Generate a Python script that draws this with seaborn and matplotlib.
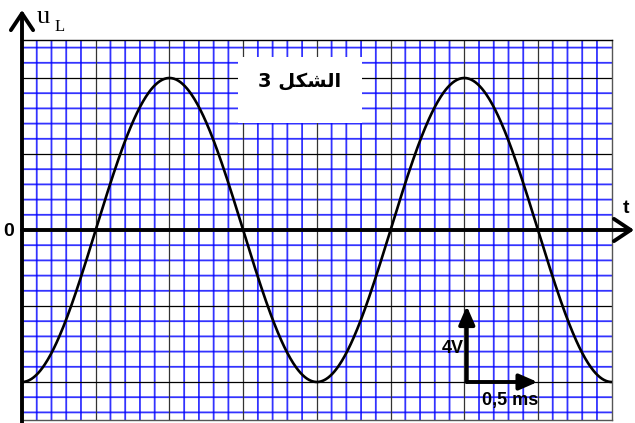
import numpy as np
import matplotlib.pyplot as plt
import seaborn as sns
from matplotlib.patches import Rectangle

# values (grid: 0.5 ms and 4 V per big square)
u_max_v = 8.0        # peak of u_L
period_ms = 2.0      # one full oscillation
t_end_ms = 4.0
u_lim_v = 10.0
t_major_ms = 0.5
t_minor_ms = 0.1
u_major_v = 4.0
u_minor_v = 0.8

t = np.linspace(0, t_end_ms, 801)
u = -u_max_v * np.cos(2 * np.pi * t / period_ms)   # starts at the minimum

W, H = 635, 423
sns.set_style('white')

fig = plt.figure(figsize=(W / 100, H / 100), dpi=100)
ax = fig.add_axes([22 / W, 3 / H, (611.7 - 22) / W, 380 / H])

sns.lineplot(x=t, y=u, color='black', lw=1.9, ax=ax, zorder=4)

ax.set_xlim(0, t_end_ms)
ax.set_ylim(-u_lim_v, u_lim_v)

# graph paper
blue = '#0000ff'
n_t = int(round(t_end_ms / t_minor_ms))
per_major_t = int(round(t_major_ms / t_minor_ms))
for i in range(1, n_t):
    if i % per_major_t == 0:
        ax.axvline(i * t_minor_ms, color='#333333', lw=0.9, zorder=1)
    else:
        ax.axvline(i * t_minor_ms, color=blue, lw=1.3, alpha=0.8, snap=False, zorder=0.5)
n_u = int(u_lim_v // u_minor_v)
per_major_u = int(round(u_major_v / u_minor_v))
for j in range(-n_u, n_u + 1):
    if j == 0:
        continue
    if j % per_major_u == 0:
        ax.axhline(j * u_minor_v, color='black', lw=0.9, zorder=1)
    else:
        ax.axhline(j * u_minor_v, color=blue, lw=1.3, alpha=0.8, snap=False, zorder=0.5)
ax.set_xticks([])
ax.set_yticks([])

ax.spines['left'].set_visible(False)
ax.spines['top'].set_color('black')
ax.spines['right'].set_color('#555555')
ax.spines['bottom'].set_color('#555555')
for s in ['top', 'right', 'bottom']:
    ax.spines[s].set_linewidth(1.0)

# axes with open arrow heads
axis_arrow = dict(arrowstyle='->, head_length=0.6, head_width=0.4', lw=2.8,
                  color='black', shrinkA=0, shrinkB=0, mutation_scale=20)
ax.annotate('', xy=(1.038, 0), xytext=(0, 0),
            xycoords=('axes fraction', 'data'), textcoords=('axes fraction', 'data'),
            arrowprops=axis_arrow, annotation_clip=False, zorder=6)
ax.annotate('', xy=(0, 1.079), xytext=(0, -0.01),
            xycoords=('data', 'axes fraction'), textcoords=('data', 'axes fraction'),
            arrowprops=axis_arrow, annotation_clip=False, zorder=6)

# scale arrows
scale_arrow = dict(arrowstyle='-|>, head_length=0.55, head_width=0.24', lw=2.8,
                   color='black', shrinkA=0, shrinkB=0, mutation_scale=20)
t0 = 3.017
ax.annotate('', xy=(t0, -u_max_v + u_major_v), xytext=(t0, -u_max_v),
            arrowprops=scale_arrow, zorder=6)
ax.annotate('', xy=(t0 + t_major_ms - 0.02, -u_max_v), xytext=(t0, -u_max_v),
            arrowprops=scale_arrow, zorder=6)
lab = dict(family='Liberation Sans', weight='bold', fontsize=13, color='black')
ax.text(2.995, -6.25, '4V', ha='right', va='center', zorder=7, **lab)
ax.text(3.31, -8.95, '0,5 ms', ha='center', va='center', zorder=7, **lab)

# figure label box
ax.add_patch(Rectangle((1.465, 5.63), 0.842, 3.47, facecolor='white',
                       edgecolor='none', zorder=3))
# Arabic "الشكل 3" in shaped presentation forms, visual order
ax.text(1.886, 7.85, '3 \ufede\ufedc\ufeb8\ufedf\ufe8d', ha='center', va='center',
        family=['DejaVu Sans'], weight='bold', fontsize=14, color='black', zorder=5)

# axis labels
fig.text(9 / W, 1 - 231 / H, '0', ha='center', va='center',
         family='Liberation Sans', weight='bold', fontsize=14, color='black')
fig.text(626 / W, 1 - 208 / H, 't', ha='center', va='center',
         family='Liberation Sans', weight='bold', fontsize=14, color='black')
fig.text(37 / W, 1 - 23 / H, 'u', ha='left', va='baseline',
         family='Liberation Serif', fontsize=19, color='black')
fig.text(55 / W, 1 - 31 / H, 'L', ha='left', va='baseline',
         family='Liberation Serif', fontsize=12, color='black')

fig.savefig('out.png', dpi=100)
